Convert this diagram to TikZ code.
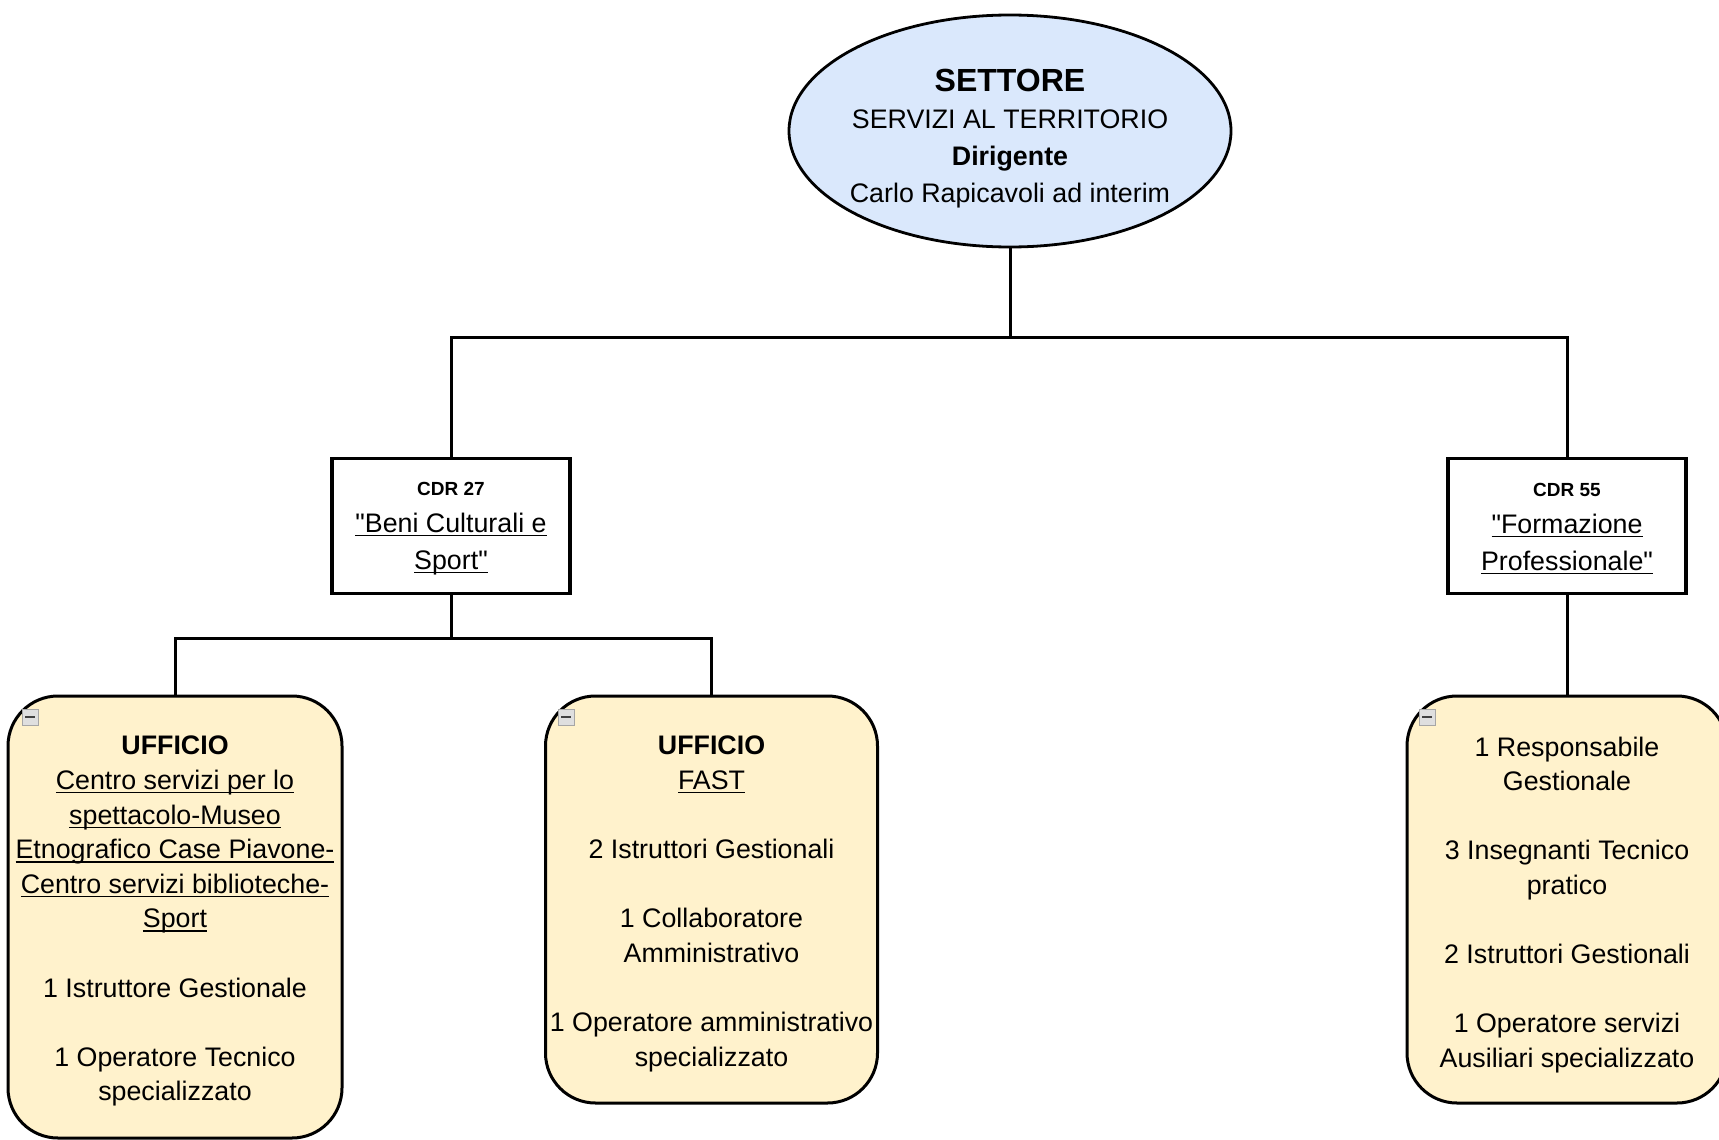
\documentclass[tikz,border=0pt]{standalone}
\usepackage{fontspec}
\setmainfont{Liberation Sans}[Ligatures=TeXOff]
\usetikzlibrary{shapes.geometric}
\definecolor{settoreblu}{HTML}{DAE8FC}
\definecolor{ufficiogiallo}{HTML}{FFF2CC}
\newcommand{\sott}[1]{\setbox0\hbox{#1}\rlap{\rule[-2pt]{\wd0}{0.7pt}}\box0}

\begin{document}
\begin{tikzpicture}[x=0.5pt,y=-0.5pt,
    settore/.style={ellipse,draw,line width=1.4pt,fill=settoreblu,minimum width=221pt,minimum height=116pt,inner xsep=-5pt,inner ysep=0pt,align=center,font=\fontsize{13.4}{18.5}\selectfont},
    cdr/.style={rectangle,draw,line width=1.6pt,fill=white,minimum width=119pt,minimum height=67.5pt,inner sep=0pt,align=center,font=\fontsize{13.4}{18.5}\selectfont},
    ufficio/.style={rectangle,rounded corners=25pt,draw,line width=1.5pt,fill=ufficiogiallo,inner sep=0pt,align=center,font=\fontsize{13.4}{17.3}\selectfont},
    collapse/.style={rectangle,draw=gray!70,fill=gray!25,minimum size=8pt,inner sep=0pt,line width=0.5pt,
      path picture={\draw[line width=1.2pt,black!75] ([xshift=-2.5pt]path picture bounding box.center) -- ([xshift=2.5pt]path picture bounding box.center);}},
    link/.style={line width=1.5pt}]
  \useasboundingbox (0,0) rectangle (1719,1140);

  \node[settore] (settore) at (1010,131) {\rule{0pt}{18.5pt}{\fontsize{16}{18.5}\selectfont\bfseries SETTORE}\\
    SERVIZI AL TERRITORIO\\ \textbf{Dirigente}\\ Carlo Rapicavoli ad interim};

  \begin{scope}[every node/.style={cdr}]
    \node (cdrA) at (451,526) {\rule{0pt}{9pt}{\fontsize{9.5}{18.5}\selectfont\bfseries CDR 27}\\
      \sott{"Beni Culturali e}\\ \sott{Sport"}};
    \node (cdrB) at (1567,526) {\rule{0pt}{9pt}{\fontsize{9.5}{18.5}\selectfont\bfseries CDR 55}\\
      \sott{"Formazione}\\ \sott{Professionale"}};
  \end{scope}

  \begin{scope}[every node/.style={ufficio}]
    \node[minimum width=167pt,minimum height=221pt] (uffA) at (175,917) {\rule{0pt}{13.6pt}\textbf{UFFICIO}\\
      \sott{Centro servizi per lo}\\ \sott{spettacolo-Museo}\\ \sott{Etnografico Case Piavone-}\\
      \sott{Centro servizi biblioteche-}\\ \sott{Sport}\\[17.3pt]
      1 Istruttore Gestionale\\[17.3pt]
      1 Operatore Tecnico\\ specializzato};
    \node[minimum width=166pt,minimum height=203.5pt] (uffB) at (711.5,899.5) {\rule{0pt}{13.6pt}\textbf{UFFICIO}\\
      \sott{FAST}\\[17.3pt]
      2 Istruttori Gestionali\\[17.3pt]
      1 Collaboratore\\ Amministrativo\\[17.3pt]
      1 Operatore amministrativo\\ specializzato};
    \node[minimum width=160pt,minimum height=203.5pt] (uffC) at (1567,899.5) {\rule{0pt}{15pt}1 Responsabile\\ Gestionale\\[17.3pt]
      3 Insegnanti Tecnico\\ pratico\\[17.3pt]
      2 Istruttori Gestionali\\[17.3pt]
      1 Operatore servizi\\ Ausiliari specializzato};
  \end{scope}

  \node[collapse] (minA) at (30,717) {};
  \node[collapse] (minB) at (566,717) {};
  \node[collapse] (minC) at (1427,717) {};

  % connectors
  \coordinate (busA) at (1010,337);
  \coordinate (busB) at (451,638);
  \draw[link] (settore) -- (busA) -| (cdrA);
  \draw[link] (busA) -| (cdrB);
  \draw[link] (cdrA) -- (busB) -| (uffA);
  \draw[link] (busB) -| (uffB);
  \draw[link] (cdrB) -- (uffC);
\end{tikzpicture}
\end{document}
